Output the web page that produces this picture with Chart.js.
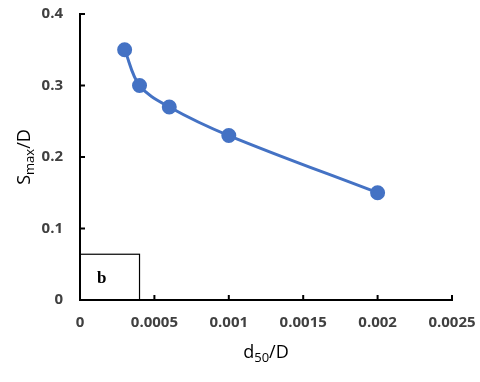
<!DOCTYPE html>
<html><head><meta charset="utf-8">
<script src="https://cdn.jsdelivr.net/npm/chart.js@4.4.1/dist/chart.umd.min.js"></script>
<style>html,body{margin:0;padding:0;background:#fff}#wrap{width:480px;height:382px}</style>
</head><body><div id="wrap"><canvas id="c" width="480" height="382"></canvas></div>
<script>
const xValues = [0.0003, 0.0004, 0.0006, 0.001, 0.002];
const yValues = [0.35, 0.30, 0.27, 0.23, 0.15];
const xTicks = [0, 0.0005, 0.001, 0.0015, 0.002, 0.0025];
const yTicks = [0, 0.1, 0.2, 0.3, 0.4];
const panelLabel = 'b';

const points = xValues.map((x, i) => ({x: x, y: yValues[i]}));
const tickFont = {family: "'Open Sans'", size: 15, weight: '700'};
const tickColor = '#404040';

const extras = {
  id: 'extras',
  afterDraw(chart) {
    const ctx = chart.ctx, xs = chart.scales.x, ys = chart.scales.y;
    ctx.save();
    ctx.strokeStyle = '#000'; ctx.lineWidth = 2;
    xTicks.forEach(v => { const p = xs.getPixelForValue(v); if (v > 0) { ctx.beginPath(); ctx.moveTo(p, ys.bottom); ctx.lineTo(p, ys.bottom - 5); ctx.stroke(); } });
    yTicks.forEach(v => { const p = ys.getPixelForValue(v); if (v > 0) { ctx.beginPath(); ctx.moveTo(xs.left, p); ctx.lineTo(xs.left + 5, p); ctx.stroke(); } });
    const bx0 = xs.getPixelForValue(0), bx1 = xs.getPixelForValue(0.0004);
    const by0 = ys.getPixelForValue(0), by1 = ys.getPixelForValue(0.064);
    ctx.lineWidth = 1.2; ctx.strokeStyle = '#000';
    ctx.strokeRect(bx0, by1, bx1 - bx0, by0 - by1);
    ctx.fillStyle = '#000'; ctx.font = "bold 17px 'Liberation Serif'";
    ctx.textAlign = 'left'; ctx.textBaseline = 'middle';
    ctx.fillText(panelLabel, bx0 + 17, (by0 + by1) / 2 + 1);
    ctx.fillStyle = '#000';
    const cx = (xs.left + xs.right) / 2;
    const ty = 352;
    ctx.textBaseline = 'alphabetic';
    const big = "18px 'Open Sans'", small = "13px 'Open Sans'";
    ctx.font = big; const wd = ctx.measureText('d').width, wr = ctx.measureText('/D').width;
    ctx.font = small; const ws = ctx.measureText('50').width;
    let x0 = cx - (wd + ws + wr) / 2;
    ctx.textAlign = 'left';
    ctx.font = big; ctx.fillText('d', x0, ty + 6);
    ctx.font = small; ctx.fillText('50', x0 + wd, ty + 10);
    ctx.font = big; ctx.fillText('/D', x0 + wd + ws, ty + 6);
    ctx.translate(24, (ys.top + ys.bottom) / 2);
    ctx.rotate(-Math.PI / 2);
    ctx.font = big; const wS = ctx.measureText('S').width, wD = ctx.measureText('/D').width;
    ctx.font = small; const wm = ctx.measureText('max').width;
    let y0 = -(wS + wm + wD) / 2;
    ctx.font = big; ctx.fillText('S', y0, 6);
    ctx.font = small; ctx.fillText('max', y0 + wS, 10);
    ctx.font = big; ctx.fillText('/D', y0 + wS + wm, 6);
    ctx.restore();
  }
};

new Chart(document.getElementById('c'), {
  type: 'scatter',
  data: { datasets: [{
    data: points, showLine: true,
    borderColor: '#4472C4', backgroundColor: '#4472C4',
    borderWidth: 3, pointRadius: 6, pointHoverRadius: 6,
    tension: 0.35
  }]},
  options: {
    responsive: false, animation: false,
    layout: { padding: { top: 14, right: 28, left: 0, bottom: 0 } },
    plugins: { legend: { display: false }, tooltip: { enabled: false } },
    scales: {
      x: {
        type: 'linear', min: 0, max: 0.0025,
        afterBuildTicks: s => { s.ticks = xTicks.map(v => ({value: v})); },
        afterFit: s => { s.height = 82; s.paddingLeft = 0; s.paddingRight = 0; },
        grid: { display: false, drawTicks: false },
        border: { display: true, color: '#000', width: 2 },
        ticks: { font: tickFont, color: tickColor, padding: 14, maxRotation: 0, autoSkip: false,
          callback: v => String(v) }
      },
      y: {
        type: 'linear', min: 0, max: 0.4,
        afterBuildTicks: s => { s.ticks = yTicks.map(v => ({value: v})); },
        afterFit: s => { s.width = 80; s.paddingTop = 0; s.paddingBottom = 0; },
        grid: { display: false, drawTicks: false },
        border: { display: true, color: '#000', width: 2 },
        ticks: { font: tickFont, color: tickColor, padding: 17,
          callback: v => String(Math.round(v * 10) / 10) }
      }
    }
  },
  plugins: [extras]
});
</script></body></html>
